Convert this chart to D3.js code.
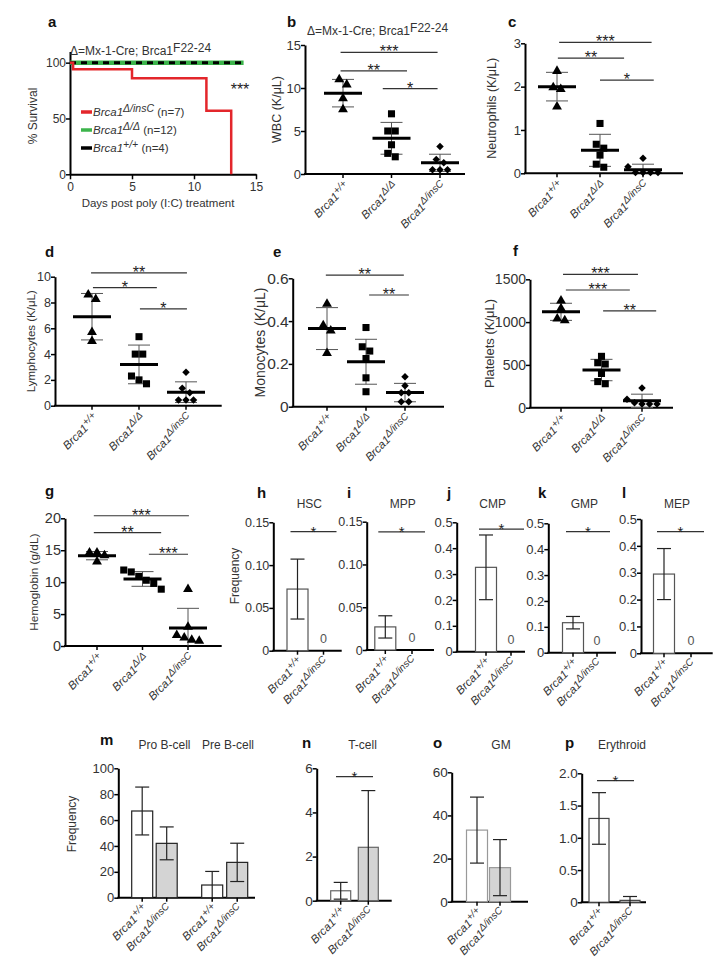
<!DOCTYPE html>
<html><head><meta charset="utf-8">
<script src="https://cdn.jsdelivr.net/npm/d3@7"></script>
<style>body{margin:0;background:#fff} svg{font-family:Arial,"Liberation Sans",sans-serif}</style>
</head><body>
<svg id="c" width="723" height="979"></svg>
<script>
// ---------------- DATA ----------------
const genotypes = ['+/+', 'Δ/Δ', 'Δ/insC'];
// panel a: survival
const survDaysInsC = [0, 0.25, 5, 11, 13];
const survInsC = [100, 94, 86, 57, 0];
const survDaysCtrl = [0, 14];
const survDD = [100, 100];
const survWT = [100, 100];
const survTicksX = [0, 5, 10, 15];
const survTicksY = [0, 50, 100];
const survLegend = [['Δ/insC', ' (n=7)'], ['Δ/Δ', ' (n=12)'], ['+/+', ' (n=4)']];
// panel b: WBC
const wbcWT = [11.0, 10.4, 8.8, 7.5];
const wbcDD = [7.0, 5.0, 5.0, 3.4, 2.4, 2.0];
const wbcIns = [3.2, 1.7, 1.3, 0.5, 0.5, 0.5];
const wbcMean = [9.4, 4.15, 1.3];
const wbcSD = [1.6, 1.85, 1.0];
// panel c: neutrophils
const neuWT = [2.36, 1.98, 1.94, 1.54];
const neuDD = [1.15, 0.67, 0.58, 0.42, 0.21, 0.14];
const neuIns = [0.35, 0.15, 0.02, 0.02, 0.02, 0.02];
const neuMean = [2.0, 0.53, 0.08];
const neuSD = [0.33, 0.37, 0.13];
// panel d: lymphocytes
const lymWT = [8.6, 8.25, 5.7, 5.0];
const lymDD = [5.35, 4.0, 4.0, 2.3, 2.0, 1.7];
const lymIns = [2.6, 1.35, 1.0, 0.45, 0.45, 0.45];
const lymMean = [6.9, 3.2, 1.05];
const lymSD = [1.8, 1.5, 0.8];
// panel e: monocytes
const monWT = [0.48, 0.38, 0.355, 0.25];
const monDD = [0.37, 0.28, 0.26, 0.225, 0.135, 0.07];
const monIns = [0.14, 0.098, 0.065, 0.065, 0.023, 0.023];
const monMean = [0.365, 0.21, 0.066];
const monSD = [0.098, 0.105, 0.043];
// panel f: platelets
const pltWT = [1250, 1160, 1040, 1020];
const pltDD = [600, 525, 510, 400, 305, 280];
const pltIns = [230, 100, 58, 43, 43, 43];
const pltMean = [1120, 440, 80];
const pltSD = [100, 125, 78];
// panel g: hemoglobin
const hgbWT = [14.6, 14.6, 14.2, 13.2];
const hgbDD = [11.9, 11.6, 10.9, 10.3, 9.8, 8.9];
const hgbIns = [8.9, 3.0, 1.7, 1.3, 0.95, 0.8];
const hgbMean = [14.15, 10.5, 2.8];
const hgbSD = [0.65, 1.15, 3.1];
// panels h-l: progenitor frequencies (Brca1+/+, Brca1Δ/insC)
const hscVal = [0.072, 0], hscErr = [0.035, 0];
const mppVal = [0.027, 0], mppErr = [0.013, 0];
const cmpVal = [0.326, 0], cmpErr = [0.125, 0];
const gmpVal = [0.116, 0], gmpErr = [0.024, 0];
const mepVal = [0.295, 0], mepErr = [0.095, 0];
// panels m-p
const bcellVal = [67, 42, 9.8, 27.3], bcellErr = [18.5, 12.7, 10.5, 14.8];
const tcellVal = [0.45, 2.42], tcellErr = [0.38, 2.57];
const gmVal = [33.2, 15.8], gmErr = [15.3, 13.0];
const eryVal = [1.30, 0.03], eryErr = [0.40, 0.06];

// ---------------- HELPERS ----------------
const svg = d3.select('#c');
const TXT = '#333';
const FONT = 'Arial, Liberation Sans, sans-serif';

function panelLabel(t, x, y) {
  svg.append('text').attr('x', x).attr('y', y).attr('font-size', 15)
    .attr('font-weight', 'bold').attr('fill', '#111').text(t);
}
function yAxis(g, y, x0, ticks, fmt, fs) {
  const ax = g.append('g').attr('transform', `translate(${x0},0)`)
    .call(d3.axisLeft(y).tickValues(ticks).tickFormat(fmt).tickSize(4).tickSizeOuter(0));
  ax.attr('font-family', FONT).attr('font-size', fs || 12);
  ax.select('.domain').attr('stroke', '#000').attr('stroke-width', 2);
  ax.selectAll('.tick line').attr('stroke', '#000').attr('stroke-width', 1.5);
  ax.selectAll('.tick text').attr('fill', TXT).attr('x', -4);
  return ax;
}
function yTitle(text, x, y, fs) {
  svg.append('text').attr('transform', `translate(${x},${y}) rotate(-90)`)
    .attr('text-anchor', 'middle').attr('font-size', fs || 12).attr('fill', TXT).text(text);
}
function catLabel(g, x, y, sup) {
  const t = g.append('text').attr('transform', `translate(${x},${y}) rotate(-45)`)
    .attr('text-anchor', 'end').attr('font-size', 11.5).attr('font-style', 'italic').attr('fill', TXT);
  t.append('tspan').text('Brca1');
  t.append('tspan').attr('dy', -4).attr('font-size', 10).text(sup);
}
function sigLine(g, x1, x2, yv, label, fs) {
  g.append('line').attr('x1', x1).attr('x2', x2).attr('y1', yv).attr('y2', yv)
    .attr('stroke', '#333').attr('stroke-width', 1.2);
  g.append('text').attr('x', (x1 + x2) / 2).attr('y', yv + 5).attr('text-anchor', 'middle')
    .attr('font-size', fs || 16).attr('fill', '#222').text(label);
}
function dodge(vals, y, step, thr) {
  const idx = vals.map((v, i) => i).sort((a, b) => vals[b] - vals[a]);
  const off = vals.map(() => 0);
  let cl = [], prev = null;
  const flush = () => { cl.forEach((k, j) => off[k] = (j - (cl.length - 1) / 2) * step); cl = []; };
  idx.forEach(k => {
    const py = y(vals[k]);
    if (prev !== null && Math.abs(py - prev) > thr) flush();
    cl.push(k); prev = py;
  });
  flush();
  return off;
}
const symbols = {
  tri: d3.symbol().type(d3.symbolTriangle).size(42),
  sq: d3.symbol().type(d3.symbolSquare).size(50),
  dia: d3.symbol().type(d3.symbolSquare).size(28)
};

function scatter(p) {
  const g = svg.append('g');
  const y = d3.scaleLinear().domain([0, p.max]).range([p.yb, p.yt]);
  const x = d3.scaleLinear().domain([0, 2]).range([p.c0, p.c2]);
  yAxis(g, y, p.x0, p.ticks, p.fmt, p.tfs);
  g.append('line').attr('x1', p.x0 - 1).attr('x2', p.x1).attr('y1', p.yb).attr('y2', p.yb)
    .attr('stroke', '#000').attr('stroke-width', 2);
  p.groups.forEach((gr, i) => {
    const cx = x(i);
    g.append('line').attr('x1', cx).attr('x2', cx).attr('y1', p.yb).attr('y2', p.yb + 4)
      .attr('stroke', '#000').attr('stroke-width', 1.5);
    const lo = Math.max(0, gr.mean - gr.sd), hi = gr.mean + gr.sd;
    g.append('line').attr('x1', cx).attr('x2', cx).attr('y1', y(lo)).attr('y2', y(hi))
      .attr('stroke', '#555').attr('stroke-width', 1);
    [hi, gr.mean - gr.sd].forEach(v => {
      if (v > 0) g.append('line').attr('x1', cx - 11).attr('x2', cx + 11).attr('y1', y(v)).attr('y2', y(v))
        .attr('stroke', '#555').attr('stroke-width', 1);
    });
    g.append('line').attr('x1', cx - 19).attr('x2', cx + 19).attr('y1', y(gr.mean)).attr('y2', y(gr.mean))
      .attr('stroke', '#000').attr('stroke-width', 3);
    const off = dodge(gr.vals, y, 7.5, 6);
    gr.vals.forEach((v, k) => {
      g.append('path').attr('d', symbols[gr.sym]())
        .attr('transform', `translate(${cx + off[k]},${y(v)})` + (gr.sym === 'dia' ? ' rotate(45)' : ''))
        .attr('fill', '#000');
    });
    catLabel(g, cx + 7, p.yb + 13, genotypes[i]);
  });
  p.sig.forEach(s => sigLine(g, x(s[0]), x(s[1]), y(s[2]), s[3]));
  yTitle(p.title, p.tx, (p.yb + p.yt) / 2, p.ttfs);
}

function bars(p) {
  const g = svg.append('g');
  const y = d3.scaleLinear().domain([0, p.max]).range([p.yb, p.yt]);
  const x = d3.scaleOrdinal().domain(d3.range(p.vals.length)).range(p.cx);
  yAxis(g, y, p.x0, p.ticks, p.fmt, p.tfs);
  g.append('line').attr('x1', p.x0 - 1).attr('x2', p.x1).attr('y1', p.yb).attr('y2', p.yb)
    .attr('stroke', '#000').attr('stroke-width', 2);
  p.vals.forEach((v, i) => {
    const cx = x(i), e = p.errs[i];
    if (v > 0) {
      g.append('rect').attr('x', cx - p.bw / 2).attr('y', y(v)).attr('width', p.bw)
        .attr('height', p.yb - y(v)).attr('fill', p.fills[i]).attr('stroke', p.stroke || '#555')
        .attr('stroke-width', 1.2);
    } else if (p.zero) {
      g.append('text').attr('x', cx).attr('y', p.yb - 8).attr('text-anchor', 'middle')
        .attr('font-size', 12.5).attr('fill', '#555').text('0');
    }
    if (e > 0) {
      const lo = Math.max(0, v - e), hi = v + e;
      g.append('line').attr('x1', cx).attr('x2', cx).attr('y1', y(lo)).attr('y2', y(hi))
        .attr('stroke', '#222').attr('stroke-width', 1.2);
      [hi, v - e].forEach(w => {
        if (w > 0) g.append('line').attr('x1', cx - 7).attr('x2', cx + 7).attr('y1', y(w)).attr('y2', y(w))
          .attr('stroke', '#222').attr('stroke-width', 1.2);
      });
    }
    g.append('line').attr('x1', cx).attr('x2', cx).attr('y1', p.yb).attr('y2', p.yb + 4)
      .attr('stroke', '#000').attr('stroke-width', 1.5);
    catLabel(g, cx + 6, p.yb + 12, p.sups[i]);
  });
  if (p.sig) sigLine(g, p.sig[0], p.sig[1], y(p.sig[2]), '*', 15);
  p.titles.forEach(t => g.append('text').attr('x', t[1]).attr('y', t[2]).attr('text-anchor', 'middle')
    .attr('font-size', 12).attr('fill', TXT).text(t[0]));
}

// ---------------- PANEL A ----------------
(function () {
  const g = svg.append('g');
  const x = d3.scaleLinear().domain([0, 15]).range([70, 256]);
  const y = d3.scaleLinear().domain([0, 110]).range([174.3, 51.5]);
  const ya = g.append('g').attr('transform', 'translate(70,0)')
    .call(d3.axisLeft(y).tickValues(survTicksY).tickSize(4).tickSizeOuter(0));
  const xa = g.append('g').attr('transform', 'translate(0,174.3)')
    .call(d3.axisBottom(x).tickValues(survTicksX).tickSize(5).tickSizeOuter(0));
  [ya, xa].forEach(a => {
    a.attr('font-family', FONT).attr('font-size', 12);
    a.select('.domain').attr('stroke', '#000').attr('stroke-width', 2);
    a.selectAll('.tick line').attr('stroke', '#000').attr('stroke-width', 1.5);
    a.selectAll('.tick text').attr('fill', TXT);
  });
  ya.selectAll('.tick text').attr('x', -4);
  const line = d3.line().x(d => x(d[0])).y(d => y(d[1])).curve(d3.curveStepAfter);
  g.append('path').attr('d', line(survDaysCtrl.map((d, i) => [d, survDD[i]])))
    .attr('fill', 'none').attr('stroke', '#3cb44b').attr('stroke-width', 4.5);
  g.append('path').attr('d', line(survDaysCtrl.map((d, i) => [d, survWT[i]])))
    .attr('fill', 'none').attr('stroke', '#000').attr('stroke-width', 3).attr('stroke-dasharray', '6,5');
  g.append('path').attr('d', line(survDaysInsC.map((d, i) => [d, survInsC[i]])))
    .attr('fill', 'none').attr('stroke', '#e3262b').attr('stroke-width', 2.5);
  g.append('text').attr('x', 240).attr('y', 95).attr('text-anchor', 'middle').attr('font-size', 16)
    .attr('fill', '#222').text('***');
  const cols = ['#e3262b', '#3cb44b', '#000'];
  const ly = [112, 130, 148];
  survLegend.forEach((L, i) => {
    g.append('line').attr('x1', 81).attr('x2', 92).attr('y1', ly[i]).attr('y2', ly[i])
      .attr('stroke', cols[i]).attr('stroke-width', 3.5);
    const t = g.append('text').attr('x', 93).attr('y', ly[i] + 4).attr('font-size', 11.5).attr('fill', TXT);
    t.append('tspan').attr('font-style', 'italic').text('Brca1');
    t.append('tspan').attr('font-style', 'italic').attr('dy', -4).attr('font-size', 10.5).text(L[0]);
    t.append('tspan').attr('dy', 4).text(L[1]);
  });
  const tt = g.append('text').attr('x', 70).attr('y', 54.5).attr('font-size', 12).attr('fill', TXT);
  tt.append('tspan').text('Δ=Mx-1-Cre; Brca1');
  tt.append('tspan').attr('dy', -3).text('F22-24');
  g.append('text').attr('x', 158).attr('y', 207).attr('text-anchor', 'middle').attr('font-size', 11.5)
    .attr('fill', TXT).text('Days post poly (I:C) treatment');
  yTitle('% Survival', 36.5, 116, 12);
})();
panelLabel('a', 48, 27);

// ---------------- PANELS B-G ----------------
const f0 = f => (d => d === 0 ? '0' : d3.format(f)(d));
scatter({x0: 305, x1: 465, yb: 174, yt: 45, max: 15, ticks: [0, 5, 10, 15], fmt: d3.format('d'), tfs: 13,
  c0: 343, c2: 440, title: 'WBC (K/μL)', tx: 281, ttfs: 12.5,
  groups: [{vals: wbcWT, mean: wbcMean[0], sd: wbcSD[0], sym: 'tri'},
           {vals: wbcDD, mean: wbcMean[1], sd: wbcSD[1], sym: 'sq'},
           {vals: wbcIns, mean: wbcMean[2], sd: wbcSD[2], sym: 'dia'}],
  sig: [[-0.05, 1.95, 14.15, '***'], [-0.05, 1.32, 12.0, '**'], [0.82, 1.95, 9.92, '*']]});
(function () {
  const tt = svg.append('text').attr('x', 307).attr('y', 34.5).attr('font-size', 12).attr('fill', TXT);
  tt.append('tspan').text('Δ=Mx-1-Cre; Brca1');
  tt.append('tspan').attr('dy', -3).text('F22-24');
})();
panelLabel('b', 287, 27);

scatter({x0: 525, x1: 683, yb: 173.3, yt: 43.3, max: 3, ticks: [0, 1, 2, 3], fmt: d3.format('d'), tfs: 13,
  c0: 557, c2: 643, title: 'Neutrophils (K/μL)', tx: 496, ttfs: 12.5,
  groups: [{vals: neuWT, mean: neuMean[0], sd: neuSD[0], sym: 'tri'},
           {vals: neuDD, mean: neuMean[1], sd: neuSD[1], sym: 'sq'},
           {vals: neuIns, mean: neuMean[2], sd: neuSD[2], sym: 'dia'}],
  sig: [[0.05, 2.2, 3.02, '***'], [0.02, 1.56, 2.66, '**'], [1.0, 2.25, 2.15, '*']]});
panelLabel('c', 508, 27);

scatter({x0: 55, x1: 221.7, yb: 405.7, yt: 276.7, max: 10, ticks: [0, 2, 4, 6, 8, 10], fmt: d3.format('d'), tfs: 12.5,
  c0: 92, c2: 186, title: 'Lymphocytes (K/μL)', tx: 35, ttfs: 11.5,
  groups: [{vals: lymWT, mean: lymMean[0], sd: lymSD[0], sym: 'tri'},
           {vals: lymDD, mean: lymMean[1], sd: lymSD[1], sym: 'sq'},
           {vals: lymIns, mean: lymMean[2], sd: lymSD[2], sym: 'dia'}],
  sig: [[-0.02, 2.02, 10.3, '**'], [0.02, 1.38, 9.15, '*'], [1.02, 2.02, 7.5, '*']]});
panelLabel('d', 45, 257);

scatter({x0: 292.7, x1: 444, yb: 406.7, yt: 278.3, max: 0.6, ticks: [0, 0.2, 0.4, 0.6], fmt: f0('.1f'), tfs: 15.5,
  c0: 327, c2: 405, title: 'Monocytes (K/μL)', tx: 265, ttfs: 14,
  groups: [{vals: monWT, mean: monMean[0], sd: monSD[0], sym: 'tri'},
           {vals: monDD, mean: monMean[1], sd: monSD[1], sym: 'sq'},
           {vals: monIns, mean: monMean[2], sd: monSD[2], sym: 'dia'}],
  sig: [[-0.03, 1.97, 0.615, '**'], [1.08, 2.1, 0.522, '**']]});
panelLabel('e', 273, 257);

scatter({x0: 530, x1: 673, yb: 407.7, yt: 279.3, max: 1500, ticks: [0, 500, 1000, 1500], fmt: d3.format('d'), tfs: 14,
  c0: 561, c2: 642, title: 'Platelets (K/μL)', tx: 494, ttfs: 13,
  groups: [{vals: pltWT, mean: pltMean[0], sd: pltSD[0], sym: 'tri'},
           {vals: pltDD, mean: pltMean[1], sd: pltSD[1], sym: 'sq'},
           {vals: pltIns, mean: pltMean[2], sd: pltSD[2], sym: 'dia'}],
  sig: [[0.05, 1.9, 1558, '***'], [0.12, 1.7, 1375, '***'], [1.04, 2.35, 1130, '**']]});
panelLabel('f', 513, 256);

scatter({x0: 65, x1: 221.7, yb: 646, yt: 518.3, max: 20, ticks: [0, 5, 10, 15, 20], fmt: d3.format('d'), tfs: 14.5,
  c0: 97, c2: 188, title: 'Hemoglobin (g/dL)', tx: 37.5, ttfs: 11.8,
  groups: [{vals: hgbWT, mean: hgbMean[0], sd: hgbSD[0], sym: 'tri'},
           {vals: hgbDD, mean: hgbMean[1], sd: hgbSD[1], sym: 'sq'},
           {vals: hgbIns, mean: hgbMean[2], sd: hgbSD[2], sym: 'tri'}],
  sig: [[-0.07, 2.02, 20.4, '***'], [-0.07, 1.41, 17.75, '**'], [1.14, 2.0, 14.37, '***']]});
panelLabel('g', 45, 496);

// ---------------- PANELS H-L ----------------
const prog = [
  {l: 'h', t: 'HSC', v: hscVal, e: hscErr, x0: 273.3, yb: 650.7, yt: 522.3, max: 0.15, cx: [297.5, 323.5], x1: 341.7, sig: 0.139, lx: 257},
  {l: 'i', t: 'MPP', v: mppVal, e: mppErr, x0: 366.7, yb: 650, yt: 521.7, max: 0.15, cx: [385.3, 412], x1: 434, sig: 0.138, lx: 347},
  {l: 'j', t: 'CMP', v: cmpVal, e: cmpErr, x0: 456.7, yb: 651.7, yt: 522.3, max: 0.5, cx: [486, 511], x1: 525, sig: 0.474, lx: 447},
  {l: 'k', t: 'GMP', v: gmpVal, e: gmpErr, x0: 548.3, yb: 652.7, yt: 523.3, max: 0.5, cx: [573, 597], x1: 616, sig: 0.468, lx: 538},
  {l: 'l', t: 'MEP', v: mepVal, e: mepErr, x0: 641, yb: 653.3, yt: 519, max: 0.5, cx: [664, 691], x1: 712.7, sig: 0.453, lx: 622}
];
prog.forEach(p => {
  const small = p.max < 0.2;
  bars({x0: p.x0, x1: p.x1, yb: p.yb, yt: p.yt, max: p.max, tfs: small ? 12.5 : 13,
    ticks: small ? [0, 0.05, 0.10, 0.15] : [0, 0.1, 0.2, 0.3, 0.4, 0.5],
    fmt: small ? f0('.2f') : f0('.1f'), vals: p.v, errs: p.e, cx: p.cx, bw: 21,
    fills: ['#fff', '#d4d4d4'], sups: ['+/+', 'Δ/insC'], zero: true,
    sig: [p.cx[0] - 7, p.cx[1] + 13, p.sig], titles: [[p.t, p.x0 + 36, 508]]});
  panelLabel(p.l, p.lx, 498);
});
yTitle('Frequency', 239, 576, 12);

// ---------------- PANELS M-P ----------------
bars({x0: 118.3, x1: 255, yb: 897.7, yt: 768.3, max: 100, ticks: [0, 20, 40, 60, 80, 100], fmt: d3.format('d'), tfs: 13,
  vals: bcellVal, errs: bcellErr, cx: [142.2, 166.7, 212.2, 237.2], bw: 21, stroke: '#222',
  fills: ['#fff', '#d4d4d4', '#fff', '#d4d4d4'], sups: ['+/+', 'Δ/insC', '+/+', 'Δ/insC'],
  titles: [['Pro B-cell', 164.5, 749], ['Pre B-cell', 228, 749]]});
yTitle('Frequency', 76, 824, 12);
panelLabel('m', 100, 745);

bars({x0: 316.7, x1: 391.7, yb: 900.7, yt: 768.3, max: 6, ticks: [0, 2, 4, 6], fmt: d3.format('d'), tfs: 13.5,
  vals: tcellVal, errs: tcellErr, cx: [340.7, 368.3], bw: 20, stroke: '#666',
  fills: ['#fff', '#d4d4d4'], sups: ['+/+', 'Δ/insC'], sig: [336, 373, 5.62],
  titles: [['T-cell', 362.5, 749]]});
panelLabel('n', 302, 748);

bars({x0: 451.7, x1: 528, yb: 901.7, yt: 772.3, max: 60, ticks: [0, 20, 40, 60], fmt: d3.format('d'), tfs: 13.5,
  vals: gmVal, errs: gmErr, cx: [477, 500], bw: 21, stroke: '#999',
  fills: ['#fff', '#d4d4d4'], sups: ['+/+', 'Δ/insC'],
  titles: [['GM', 501, 749]]});
panelLabel('o', 433, 748);

bars({x0: 581.7, x1: 646, yb: 902.3, yt: 773.3, max: 2, ticks: [0, 0.5, 1.0, 1.5, 2.0], fmt: f0('.1f'), tfs: 13.5,
  vals: eryVal, errs: eryErr, cx: [599, 630], bw: 20, stroke: '#444',
  fills: ['#fff', '#d4d4d4'], sups: ['+/+', 'Δ/insC'], sig: [597, 634, 1.885],
  titles: [['Erythroid', 622, 749]]});
panelLabel('p', 565, 748);
</script>
</body></html>
